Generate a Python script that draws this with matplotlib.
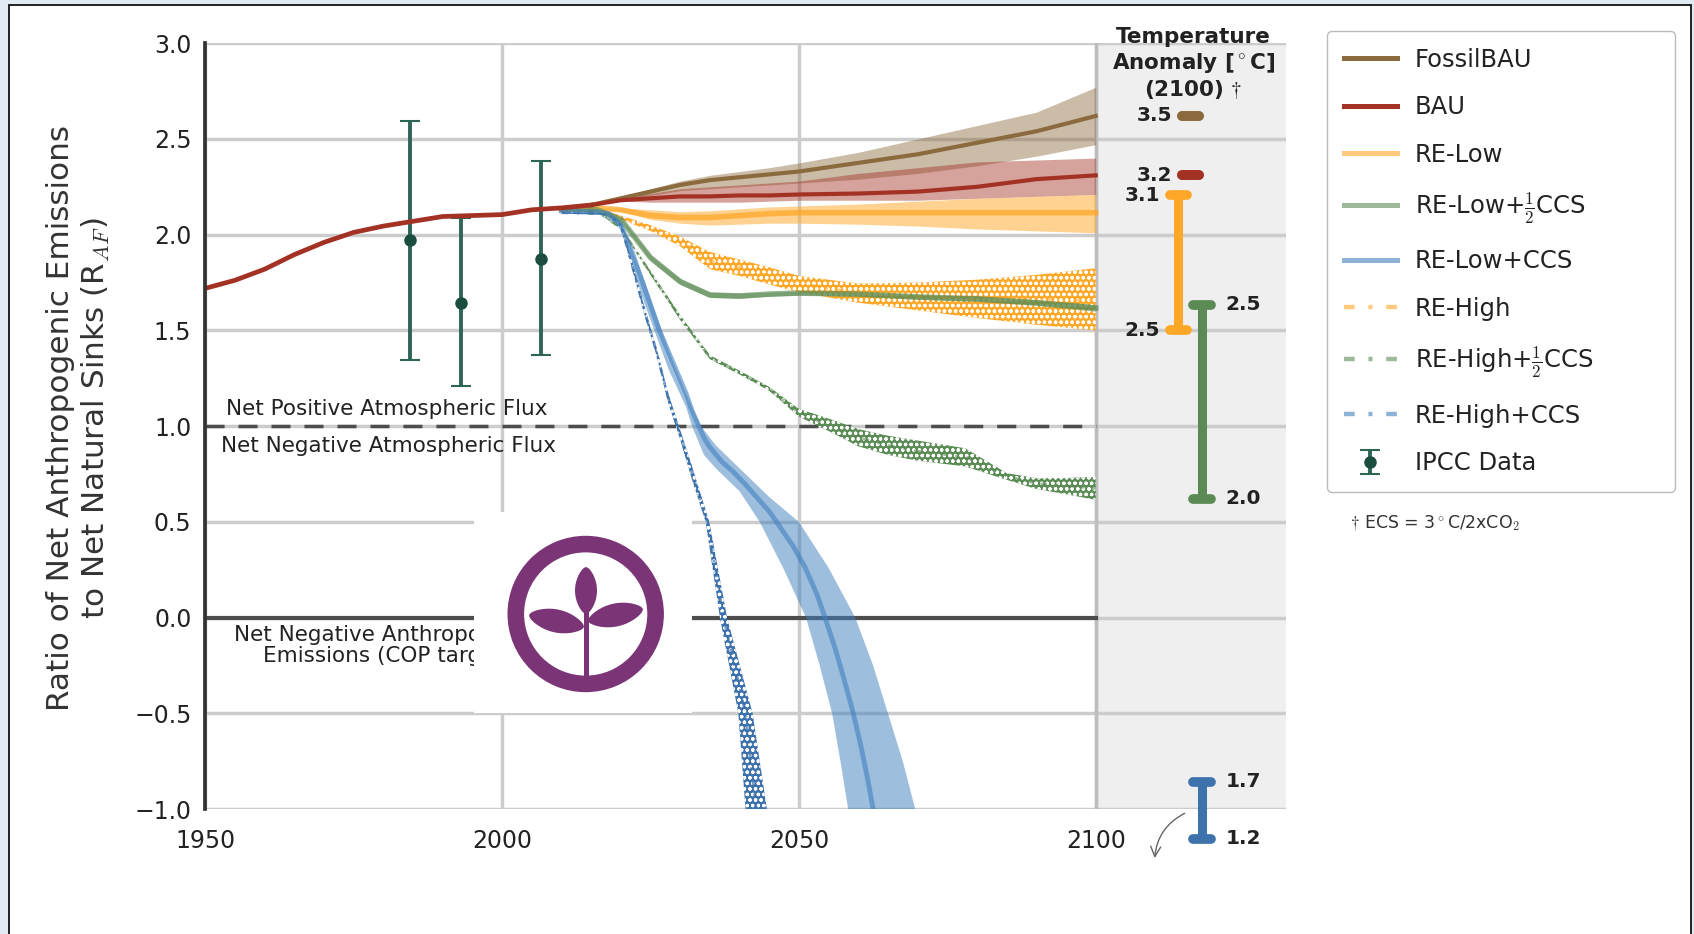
import numpy as np
import matplotlib
matplotlib.use('Agg')
import matplotlib.pyplot as plt
from matplotlib.lines import Line2D
from matplotlib.patches import Rectangle, Annulus, Polygon

plt.rcParams['font.family'] = ['DejaVu Sans']
plt.rcParams['mathtext.fontset'] = 'cm'
plt.rcParams['hatch.color'] = 'white'
plt.rcParams['hatch.linewidth'] = 0.9

# ---------------- data ----------------
# historical / BAU
hist_years = [1950, 1955, 1960, 1965, 1970, 1975, 1980, 1985, 1990, 1995, 2000, 2005, 2010, 2015]
hist_r = [1.72, 1.762, 1.82, 1.896, 1.96, 2.012, 2.045, 2.07, 2.095, 2.10, 2.105, 2.13, 2.14, 2.155]

fut_years = [2015, 2020, 2025, 2030, 2035, 2040, 2045, 2050, 2060, 2070, 2080, 2090, 2100]
fossil = [2.155, 2.19, 2.225, 2.26, 2.285, 2.30, 2.315, 2.33, 2.375, 2.42, 2.48, 2.54, 2.62]
fossil_hi = [2.155, 2.20, 2.24, 2.28, 2.31, 2.33, 2.35, 2.375, 2.43, 2.50, 2.57, 2.64, 2.77]
fossil_lo = [2.155, 2.18, 2.205, 2.23, 2.24, 2.25, 2.26, 2.27, 2.29, 2.32, 2.36, 2.41, 2.47]
bau = [2.155, 2.18, 2.19, 2.20, 2.20, 2.205, 2.205, 2.21, 2.215, 2.225, 2.25, 2.29, 2.31]
bau_hi = [2.155, 2.19, 2.215, 2.24, 2.25, 2.26, 2.27, 2.28, 2.32, 2.35, 2.38, 2.39, 2.40]
bau_lo = [2.155, 2.175, 2.17, 2.17, 2.17, 2.17, 2.175, 2.18, 2.18, 2.18, 2.19, 2.20, 2.21]

# renewable scenarios
re_years = [2010, 2016, 2020, 2025, 2030, 2035, 2040, 2045, 2050, 2060, 2070, 2080, 2090, 2100]
re_low = [2.135, 2.14, 2.13, 2.10, 2.09, 2.09, 2.10, 2.11, 2.115, 2.115, 2.115, 2.115, 2.115, 2.115]
re_low_hi = [2.135, 2.14, 2.14, 2.13, 2.12, 2.125, 2.135, 2.145, 2.15, 2.16, 2.175, 2.19, 2.20, 2.21]
re_low_lo = [2.135, 2.14, 2.12, 2.08, 2.06, 2.05, 2.055, 2.06, 2.06, 2.055, 2.045, 2.03, 2.02, 2.01]
re_high = [2.135, 2.133, 2.09, 2.035, 1.965, 1.865, 1.83, 1.785, 1.745, 1.695, 1.675, 1.665, 1.66, 1.66]
re_high_hi = [2.135, 2.135, 2.10, 2.05, 1.99, 1.91, 1.87, 1.83, 1.785, 1.745, 1.75, 1.765, 1.79, 1.825]
re_high_lo = [2.135, 2.13, 2.08, 2.02, 1.94, 1.82, 1.785, 1.74, 1.70, 1.645, 1.605, 1.565, 1.53, 1.50]
re_low_half = [2.135, 2.13, 2.08, 1.88, 1.755, 1.685, 1.68, 1.69, 1.695, 1.69, 1.675, 1.665, 1.645, 1.617]
re_low_half_hi = [2.135, 2.135, 2.09, 1.895, 1.77, 1.70, 1.695, 1.70, 1.705, 1.70, 1.688, 1.678, 1.66, 1.635]
re_low_half_lo = [2.135, 2.125, 2.07, 1.865, 1.74, 1.672, 1.667, 1.678, 1.685, 1.68, 1.662, 1.652, 1.63, 1.60]

half_years = [2010, 2016, 2020, 2025, 2030, 2035, 2040, 2045, 2050, 2055, 2060, 2065, 2070, 2078, 2085, 2090, 2095, 2100]
re_high_half = [2.13, 2.122, 2.035, 1.80, 1.567, 1.36, 1.28, 1.195, 1.07, 1.005, 0.94, 0.90, 0.87, 0.84, 0.74, 0.70, 0.69, 0.675]
re_high_half_hi = [2.13, 2.125, 2.04, 1.81, 1.58, 1.37, 1.29, 1.205, 1.09, 1.04, 0.985, 0.95, 0.925, 0.885, 0.755, 0.728, 0.73, 0.735]
re_high_half_lo = [2.13, 2.12, 2.03, 1.79, 1.555, 1.35, 1.27, 1.185, 1.05, 0.975, 0.895, 0.85, 0.82, 0.79, 0.72, 0.672, 0.645, 0.615]

# RE-Low+CCS (line and band edges, each with its own years)
lccs_years = [2010, 2016, 2018, 2020, 2022, 2024, 2026.5, 2029.5, 2031, 2032, 2033, 2034, 2035, 2037,
              2039, 2041, 2043, 2045, 2047, 2049, 2051, 2053, 2054.4, 2056, 2057.5, 2059, 2060.3,
              2061.5, 2062.5, 2063.5]
lccs = [2.125, 2.12, 2.11, 2.05, 1.90, 1.72, 1.50, 1.28, 1.17, 1.08, 1.01, 0.94, 0.89, 0.815,
        0.76, 0.695, 0.625, 0.555, 0.465, 0.375, 0.265, 0.125, 0.0, -0.15, -0.31, -0.48, -0.65,
        -0.83, -1.0, -1.2]
lccs_hi_years = [2010, 2016, 2020, 2024, 2028, 2031, 2033.5, 2036, 2040, 2045, 2050, 2055, 2059.5, 2062.5, 2065, 2067.5, 2069.6, 2071.5]
lccs_hi = [2.125, 2.125, 2.07, 1.76, 1.40, 1.17, 1.00, 0.90, 0.78, 0.63, 0.50, 0.26, 0.0, -0.25, -0.5, -0.75, -1.0, -1.3]
lccs_lo_years = [2010, 2016, 2020, 2024, 2028, 2031, 2032, 2034, 2036, 2040, 2043.4, 2047.5, 2051.2, 2053.5, 2055.6, 2057, 2058.3, 2059.5]
lccs_lo = [2.12, 2.115, 2.03, 1.64, 1.30, 1.10, 1.0, 0.85, 0.78, 0.66, 0.5, 0.25, 0.0, -0.25, -0.5, -0.75, -1.0, -1.3]

# RE-High+CCS
hccs_hi_years = [2010, 2016, 2018, 2020, 2022, 2024, 2026, 2028, 2030, 2032, 2034.9, 2037.9, 2042.2, 2044.6, 2045.5]
hccs_hi = [2.12, 2.115, 2.11, 2.06, 1.85, 1.62, 1.41, 1.17, 0.98, 0.79, 0.5, 0.0, -0.5, -1.0, -1.2]
hccs_lo_years = [2010, 2016, 2018, 2020, 2022, 2024, 2026, 2028, 2030, 2032, 2034.3, 2036.7, 2039.8, 2041, 2041.5]
hccs_lo = [2.11, 2.105, 2.10, 2.04, 1.81, 1.58, 1.37, 1.12, 0.93, 0.72, 0.5, 0.0, -0.5, -1.0, -1.2]
hccs_years = [2010, 2016, 2018, 2020, 2022, 2024, 2026, 2028, 2030, 2032, 2034.6, 2037.3, 2041, 2042.8, 2043.5]
hccs = [2.115, 2.11, 2.105, 2.05, 1.83, 1.60, 1.39, 1.145, 0.955, 0.755, 0.5, 0.0, -0.5, -1.0, -1.2]

# IPCC data points
ipcc_years = [1984.5, 1993, 2006.5]
ipcc_mid = [1.97, 1.643, 1.875]
ipcc_low = [1.344, 1.209, 1.37]
ipcc_high = [2.595, 2.085, 2.383]

# temperature anomaly in 2100 (labels) and the R_AF range they belong to
temp_top_lbl = ['3.5', '3.2', '3.1', '2.5', '1.7']
temp_bot_lbl = ['3.5', '3.2', '2.5', '2.0', '1.2']
temp_top_r = [2.62, 2.31, 2.207, 1.635, -0.856]
temp_bot_r = [2.62, 2.31, 1.502, 0.62, -1.154]

legend_labels = ['FossilBAU', 'BAU', 'RE-Low', r'RE-Low+$\frac{1}{2}$CCS', 'RE-Low+CCS',
                 'RE-High', r'RE-High+$\frac{1}{2}$CCS', 'RE-High+CCS', 'IPCC Data']

# ---------------- colours ----------------
c_fossil = '#8b6b3d'
c_bau = '#a33224'
c_orange = '#ffa726'
c_green = '#5b8c55'
c_blue = '#3f7fbf'
c_blue_dark = '#3d72ad'
c_ipcc = '#2e6557'
dashdot = (0, (2.4, 3.1, 0.9, 3.1))

W, H = 1694, 934
fig = plt.figure(figsize=(W / 100, H / 100), dpi=100)

# page background + frame (screenshot look)
fig.add_artist(Rectangle((0, 0), 1, 1, transform=fig.transFigure, facecolor='#dfeaf3',
                         edgecolor='none', zorder=-20))
fig.add_artist(Rectangle((8.5 / W, -0.05), (1691 - 8.5) / W, 1.05 - 5 / H, transform=fig.transFigure,
                         facecolor='white', edgecolor='#111111', lw=1.3, zorder=-19))

ax = fig.add_axes([205.3 / W, 1 - 809.2 / H, (1285.7 - 205.3) / W, (809.2 - 43.2) / H])
ax.set_xlim(1950, 2132)
ax.set_ylim(-1, 3)
ax.set_xticks([1950, 2000, 2050, 2100])
ax.set_yticks(np.arange(-1, 3.01, 0.5))
ax.tick_params(length=0, labelsize=17, labelcolor='#222222')
ax.tick_params(axis='x', pad=14)
ax.tick_params(axis='y', pad=10)
ax.grid(True, color='#cccccc', lw=2.5)
ax.set_axisbelow(True)
for s in ['top', 'right', 'bottom']:
    ax.spines[s].set_visible(False)
ax.spines['left'].set_color('#333333')
ax.spines['left'].set_linewidth(2.7)
ax.spines['left'].set_zorder(6)

ax.axvspan(2100, 2132, color='#efefef', zorder=0.2, lw=0)
ax.axvline(2100, color='#bdbdbd', lw=2.5, zorder=0.6)

ax.set_ylabel('Ratio of Net Anthropogenic Emissions\nto Net Natural Sinks (R$_{AF}$)',
              fontsize=22.4, color='#333333', labelpad=16)
ax.yaxis.label.set_y(0.511)

# reference lines
ax.plot([1950, 2100], [1, 1], color='#4d4d4d', lw=2.5, linestyle=(0, (5.5, 4)), zorder=2)
ax.plot([1950, 2100], [0, 0], color='#4d4d4d', lw=3, zorder=2)
ax.text(1953.5, 1.04, 'Net Positive Atmospheric Flux', fontsize=15.5, color='#222222', va='bottom')
ax.text(1952.6, 0.95, 'Net Negative Atmospheric Flux', fontsize=15.5, color='#222222', va='top')
ax.text(1954.9, -0.04, 'Net Negative Anthropogenic\nEmissions (COP target)', fontsize=15.5,
        color='#222222', va='top', ha='left', multialignment='center', linespacing=1.05)

# bands
ax.fill_between(fut_years, fossil_lo, fossil_hi, color=c_fossil, alpha=0.45, lw=0, zorder=2.1)
ax.fill_between(fut_years, bau_lo, bau_hi, color=c_bau, alpha=0.45, lw=0, zorder=2.1)
ax.fill_between(re_years, re_low_lo, re_low_hi, color=c_orange, alpha=0.5, lw=0, zorder=2.1)
ax.fill_between(re_years, re_high_lo, re_high_hi, facecolor=c_orange, edgecolor='white',
                hatch='ooo', lw=0, zorder=2.2)
ax.fill_between(re_years, re_low_half_lo, re_low_half_hi, color=c_green, alpha=0.5, lw=0, zorder=2.3)
ax.fill_between(half_years, re_high_half_lo, re_high_half_hi, facecolor=c_green, edgecolor='white',
                hatch='ooo', lw=0, zorder=2.2)
ax.fill(np.concatenate([lccs_hi_years, lccs_lo_years[::-1]]), np.concatenate([lccs_hi, lccs_lo[::-1]]),
        color=c_blue, alpha=0.5, lw=0, zorder=2.1)
ax.fill(np.concatenate([hccs_hi_years, hccs_lo_years[::-1]]), np.concatenate([hccs_hi, hccs_lo[::-1]]),
        facecolor=c_blue_dark, edgecolor='white', hatch='ooo', lw=0, zorder=2.2)

# IPCC data
err = ax.errorbar(ipcc_years, ipcc_mid,
                  yerr=[np.subtract(ipcc_mid, ipcc_low), np.subtract(ipcc_high, ipcc_mid)],
                  fmt='o', color='#1a4d40', ecolor=c_ipcc, elinewidth=2.8, capsize=7,
                  capthick=1.5, markersize=8, zorder=2.5)

# lines
ax.plot(hist_years, hist_r, color=c_bau, lw=3.4, zorder=4)
ax.plot(fut_years, fossil, color=c_fossil, lw=3, zorder=4)
ax.plot(fut_years, bau, color=c_bau, lw=3, zorder=4)
ax.plot(re_years, re_low, color=c_orange, alpha=0.75, lw=4, zorder=3.5)
ax.plot(re_years, re_high, color=c_orange, alpha=0.6, lw=2, linestyle=dashdot, zorder=3.5)
ax.plot(re_years, re_low_half, color=c_green, alpha=0.65, lw=4, zorder=3.5)
ax.plot(half_years, re_high_half, color=c_green, alpha=0.6, lw=2, linestyle=dashdot, zorder=3.5)
ax.plot(lccs_years, lccs, color=c_blue, alpha=0.6, lw=3.5, zorder=3.5)
ax.plot(hccs_years, hccs, color=c_blue_dark, alpha=0.7, lw=2, linestyle=dashdot, zorder=3.5)

# temperature anomaly panel
ax.text(2116.5, 3.085, 'Temperature\nAnomaly [$^\\circ$C]\n(2100) $\\dagger$', ha='center', va='top',
        fontsize=15.5, fontweight='bold', color='#222222', clip_on=False)
bar_x = [2116.0, 2116.0, 2113.9, 2117.9, 2117.9]
bar_c = [c_fossil, c_bau, c_orange, '#5b8a55', c_blue_dark]
label_left = [True, True, True, False, False]
for i in range(5):
    x = bar_x[i]
    if temp_top_r[i] != temp_bot_r[i]:
        ax.plot([x, x], [temp_bot_r[i], temp_top_r[i]], color=bar_c[i], lw=6.5,
                solid_capstyle='butt', clip_on=False, zorder=5)
    for yy in [temp_top_r[i], temp_bot_r[i]]:
        ax.plot([x - 1.45, x + 1.45], [yy, yy], color=bar_c[i], lw=7, solid_capstyle='round',
                clip_on=False, zorder=5)
    if label_left[i]:
        tx = 2112.8 if i < 2 else 2110.8
        ha = 'right'
    else:
        tx = 2121.9
        ha = 'left'
    ax.text(tx, temp_top_r[i], temp_top_lbl[i], ha=ha, va='center', fontsize=14.5,
            fontweight='bold', color='#222222', clip_on=False)
    if temp_top_r[i] != temp_bot_r[i]:
        ax.text(tx, temp_bot_r[i], temp_bot_lbl[i], ha=ha, va='center', fontsize=14.5,
                fontweight='bold', color='#222222', clip_on=False)

ax.annotate('', xy=(2109.9, -1.27), xytext=(2115.4, -1.015),
            arrowprops=dict(arrowstyle='->', color='#666666', lw=1,
                            connectionstyle='arc3,rad=0.3', mutation_scale=18),
            annotation_clip=False)

# legend
handles = [Line2D([], [], color=c_fossil, lw=3.6),
           Line2D([], [], color=c_bau, lw=3.6),
           Line2D([], [], color=c_orange, alpha=0.6, lw=3.6),
           Line2D([], [], color=c_green, alpha=0.6, lw=3.6),
           Line2D([], [], color=c_blue, alpha=0.6, lw=3.6),
           Line2D([], [], color=c_orange, alpha=0.6, lw=3.2, linestyle=dashdot),
           Line2D([], [], color=c_green, alpha=0.6, lw=3.2, linestyle=dashdot),
           Line2D([], [], color=c_blue, alpha=0.6, lw=3.2, linestyle=dashdot),
           err]
leg = fig.legend(handles, legend_labels, loc='upper left',
                 bbox_to_anchor=(1327 / W, 0, (1674.5 - 1327) / W, 1 - 31 / H),
                 bbox_transform=fig.transFigure, mode='expand', borderaxespad=0,
                 fontsize=17.5, labelspacing=0.97, handlelength=2.2, handletextpad=0.73,
                 borderpad=0.68, frameon=True, fancybox=True, framealpha=1)
leg.get_frame().set_edgecolor('#bbbbbb')
leg.get_frame().set_linewidth(1.0)
for t in leg.get_texts():
    t.set_color('#222222')

fig.text(1349.7 / W, 1 - 523 / H, '$\\dagger$ ECS = 3$^\\circ$C/2xCO$_2$', fontsize=12.5,
         color='#333333', ha='left', va='center')

# logo in its white box
lax = fig.add_axes([474 / W, 1 - 713 / H, 218 / W, 201 / H])
lax.set_xlim(474, 692)
lax.set_ylim(713, 512)
lax.set_xticks([])
lax.set_yticks([])
for s in lax.spines.values():
    s.set_visible(False)
purple = '#7b3577'


def leaf(x0, y0, x1, y1, half_w, power=0.7):
    # pointed leaf between base (x0, y0) and tip (x1, y1)
    s = np.linspace(0, 1, 60)
    prof = np.sin(np.pi * s) ** power
    dx, dy = x1 - x0, y1 - y0
    ln = np.hypot(dx, dy)
    nx, ny = -dy / ln, dx / ln
    px = x0 + dx * s
    py = y0 + dy * s
    left = np.column_stack([px + nx * half_w * prof, py + ny * half_w * prof])
    right = np.column_stack([px - nx * half_w * prof, py - ny * half_w * prof])
    return Polygon(np.vstack([left, right[::-1]]), closed=True, color=purple, lw=0)


lax.add_patch(Annulus((585.7, 614), 77.5, 15.2, color=purple))
lax.add_patch(Rectangle((583.5, 600), 5, 80, color=purple, lw=0))
lax.add_patch(leaf(586, 614, 586, 567, 11, power=0.6))
lax.add_patch(leaf(584, 627, 529, 615, 11.5, power=0.6))
lax.add_patch(leaf(588, 621, 643, 609, 11.5, power=0.6))

fig.savefig('out.png', dpi=100)
